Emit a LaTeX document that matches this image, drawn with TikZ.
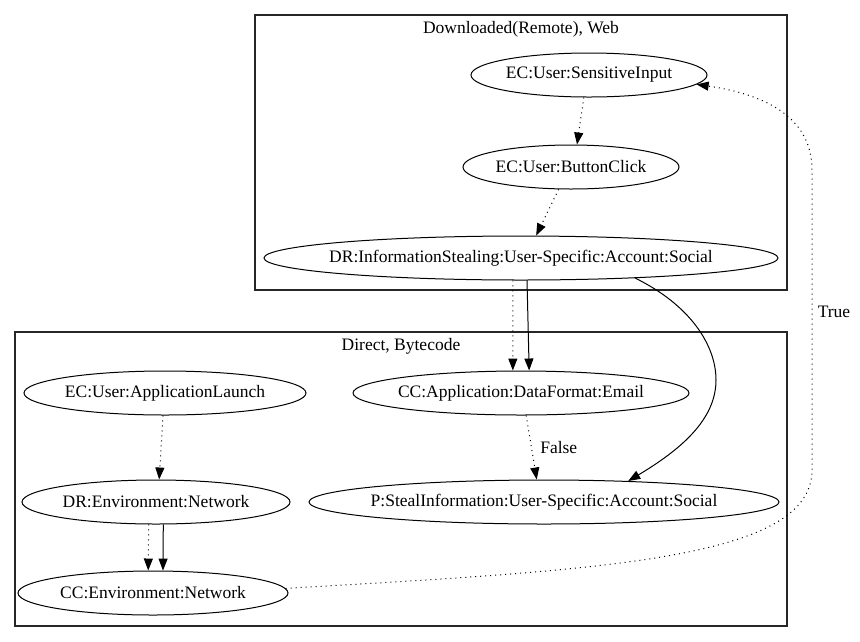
\documentclass[tikz,border=0pt]{standalone}
\usepackage{fontspec}
\setmainfont{Liberation Serif}
\newfontfamily\gvfont{Liberation Serif}
\usetikzlibrary{arrows.meta,shapes.geometric}
\begin{document}
\begin{tikzpicture}[x=1pt,y=-1pt,
  every node/.style={font=\gvfont\fontsize{17.5}{21}\selectfont},
  st/.style={draw, ellipse, inner sep=0pt, line width=1pt, minimum height=44pt},
  cl/.style={draw=black!85, line width=1.1pt},
  tip/.style={-{Triangle[length=12pt,width=9pt]}},
  soledge/.style={tip, line width=1pt},
  dotedge/.style={tip, line width=1pt, dash pattern=on 1pt off 4pt}
]
\useasboundingbox (0,0) rectangle (860,641);
% clusters
\draw[cl] (255,15) rectangle (787,290);
\node (cl1) at (521,29) {Downloaded(Remote), Web};
\draw[cl] (15,332) rectangle (787,626);
\node (cl2) at (401,346) {Direct, Bytecode};
% nodes
\node[st, minimum width=236pt] (SI) at (589,75) {\makebox[0pt]{EC:User:SensitiveInput}};
\node[st, minimum width=216pt] (BC) at (571,167) {\makebox[0pt]{EC:User:ButtonClick}};
\node[st, minimum width=514pt] (DRIS) at (521,258) {\makebox[0pt]{DR:InformationStealing:User-Specific:Account:Social}};
\node[st, minimum width=282pt] (EAL) at (165,393) {\makebox[0pt]{EC:User:ApplicationLaunch}};
\node[st, minimum width=336pt] (CCE) at (521,393) {\makebox[0pt]{CC:Application:DataFormat:Email}};
\node[st, minimum width=268pt] (DREN) at (156,502) {\makebox[0pt]{DR:Environment:Network}};
\node[st, minimum width=470pt] (PS) at (544,502) {\makebox[0pt]{P:StealInformation:User-Specific:Account:Social}};
\node[st, minimum width=270pt] (CCEN) at (153,593) {\makebox[0pt]{CC:Environment:Network}};
% edges
\draw[dotedge] (SI.257) -- (BC.75);
\draw[dotedge] (BC.241) -- (DRIS.56);
\draw[dotedge] (DRIS.250) -- (CCE.110);
\draw[soledge] (DRIS.285) -- (CCE.70);
\draw[soledge] (DRIS.-10.6) .. controls (690,305) and (716,345) .. (716,380)
   .. controls (716,420) and (680,450) .. (PS.14);
\draw[dotedge] (CCE.283) -- node[pos=0.5, anchor=west, xshift=5pt] (lf) {False} (PS.108);
\draw[dotedge] (EAL.265) -- (DREN.82);
\draw[dotedge] (DREN.252) -- (CCEN.102);
\draw[soledge] (DREN.288) -- (CCEN.66);
\draw[dotedge] (CCEN.2) .. controls (600,570) and (812,560) .. (812,470)
   -- node[pos=0.527, anchor=west, xshift=2pt] (lt) {True} (812,170)
   .. controls (812,120) and (770,95) .. (SI.-5);
\end{tikzpicture}
\end{document}
